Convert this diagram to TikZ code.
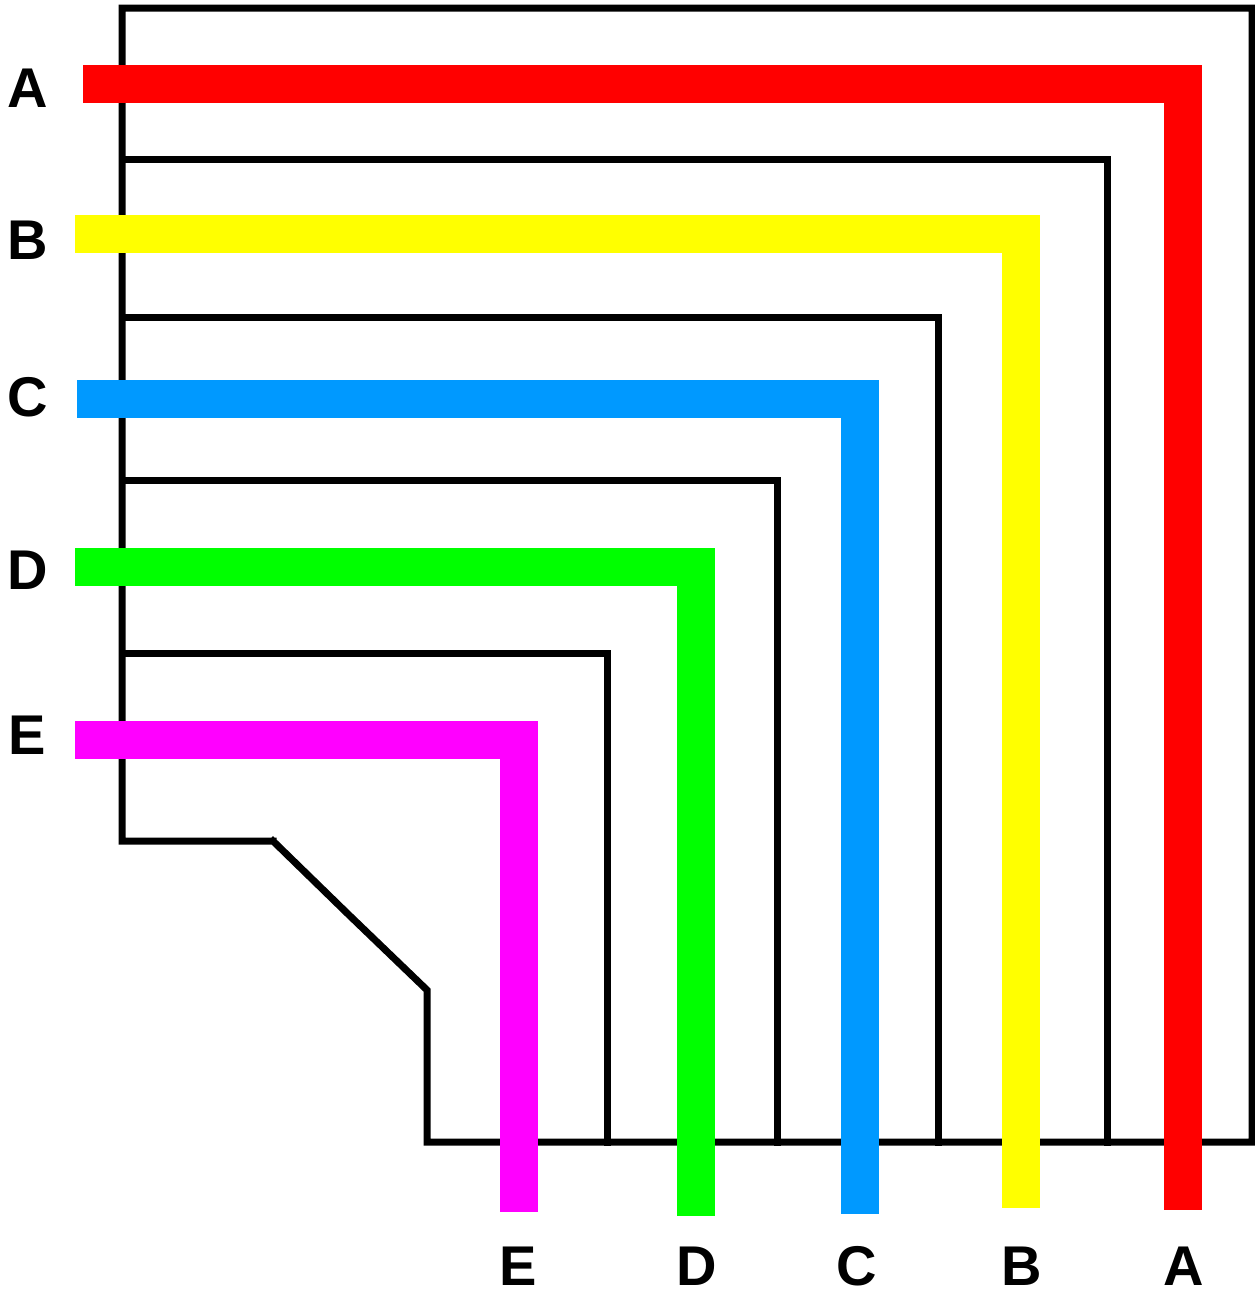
\documentclass[tikz,border=0pt]{standalone}
\usepackage{fontspec}
\setmainfont{Liberation Sans}
\begin{document}
\begin{tikzpicture}[x=1pt,y=-1pt,
  wall/.style={draw=black,line width=7pt,line join=miter,line cap=rect},
  band/.style={line width=38pt,line join=miter,line cap=butt},
  lbl/.style={inner sep=0pt,font=\fontsize{56}{60}\selectfont\bfseries}]
\useasboundingbox (0,0) rectangle (1255,1291);
\fill[white] (0,0) rectangle (1255,1291);
% outer frame corners
\coordinate (o1) at (273,841);
\coordinate (o2) at (122,841);
\coordinate (o3) at (122,8);
\coordinate (o4) at (1252,8);
\coordinate (o5) at (1252,1142);
\coordinate (o6) at (427,1142);
\coordinate (o7) at (427,990);
\coordinate (o8) at (349,915);
\draw[wall] (o1) -- (o2) -- (o3) -- (o4) -- (o5) -- (o6) -- (o7) -- (o8) -- (o1);
% inner walls
\coordinate (w1a) at (122,159);  \coordinate (w1b) at (1107,159);  \coordinate (w1c) at (1107,1142);
\coordinate (w2a) at (122,317);  \coordinate (w2b) at (938,317);   \coordinate (w2c) at (938,1142);
\coordinate (w3a) at (122,480);  \coordinate (w3b) at (777,480);   \coordinate (w3c) at (777,1142);
\coordinate (w4a) at (122,653);  \coordinate (w4b) at (607,653);   \coordinate (w4c) at (607,1142);
\draw[wall] (w1a) -- (w1b) -- (w1c);
\draw[wall] (w2a) -- (w2b) -- (w2c);
\draw[wall] (w3a) -- (w3b) -- (w3c);
\draw[wall] (w4a) -- (w4b) -- (w4c);
% coloured paths
\coordinate (a1) at (83,83.5);    \coordinate (a2) at (1183,83.5);  \coordinate (a3) at (1183,1210);
\coordinate (b1) at (75,233.5);   \coordinate (b2) at (1021,233.5); \coordinate (b3) at (1021,1208);
\coordinate (c1) at (77,398.5);   \coordinate (c2) at (860,398.5);  \coordinate (c3) at (860,1214);
\coordinate (d1) at (75,567);     \coordinate (d2) at (695.5,567);  \coordinate (d3) at (695.5,1216);
\coordinate (e1) at (75,740);     \coordinate (e2) at (519,740);    \coordinate (e3) at (519,1212);
\draw[band,draw={rgb,255:red,255;green,0;blue,0}] (a1) -- (a2) -- (a3);
\draw[band,draw={rgb,255:red,255;green,255;blue,0}] (b1) -- (b2) -- (b3);
\draw[band,draw={rgb,255:red,0;green,153;blue,255}] (c1) -- (c2) -- (c3);
\draw[band,draw={rgb,255:red,0;green,255;blue,0}] (d1) -- (d2) -- (d3);
\draw[band,draw={rgb,255:red,255;green,0;blue,255}] (e1) -- (e2) -- (e3);
% labels
\node[lbl] (lA) at (28,88) {A};
\node[lbl] (lB) at (28,240) {B};
\node[lbl] (lC) at (28,397) {C};
\node[lbl] (lD) at (28,570) {D};
\node[lbl] (lE) at (27,735) {E};
\node[lbl] (bE) at (518,1266) {E};
\node[lbl] (bD) at (697,1266) {D};
\node[lbl] (bC) at (857,1266) {C};
\node[lbl] (bB) at (1022,1266) {B};
\node[lbl] (bA) at (1184,1266) {A};
\end{tikzpicture}
\end{document}
